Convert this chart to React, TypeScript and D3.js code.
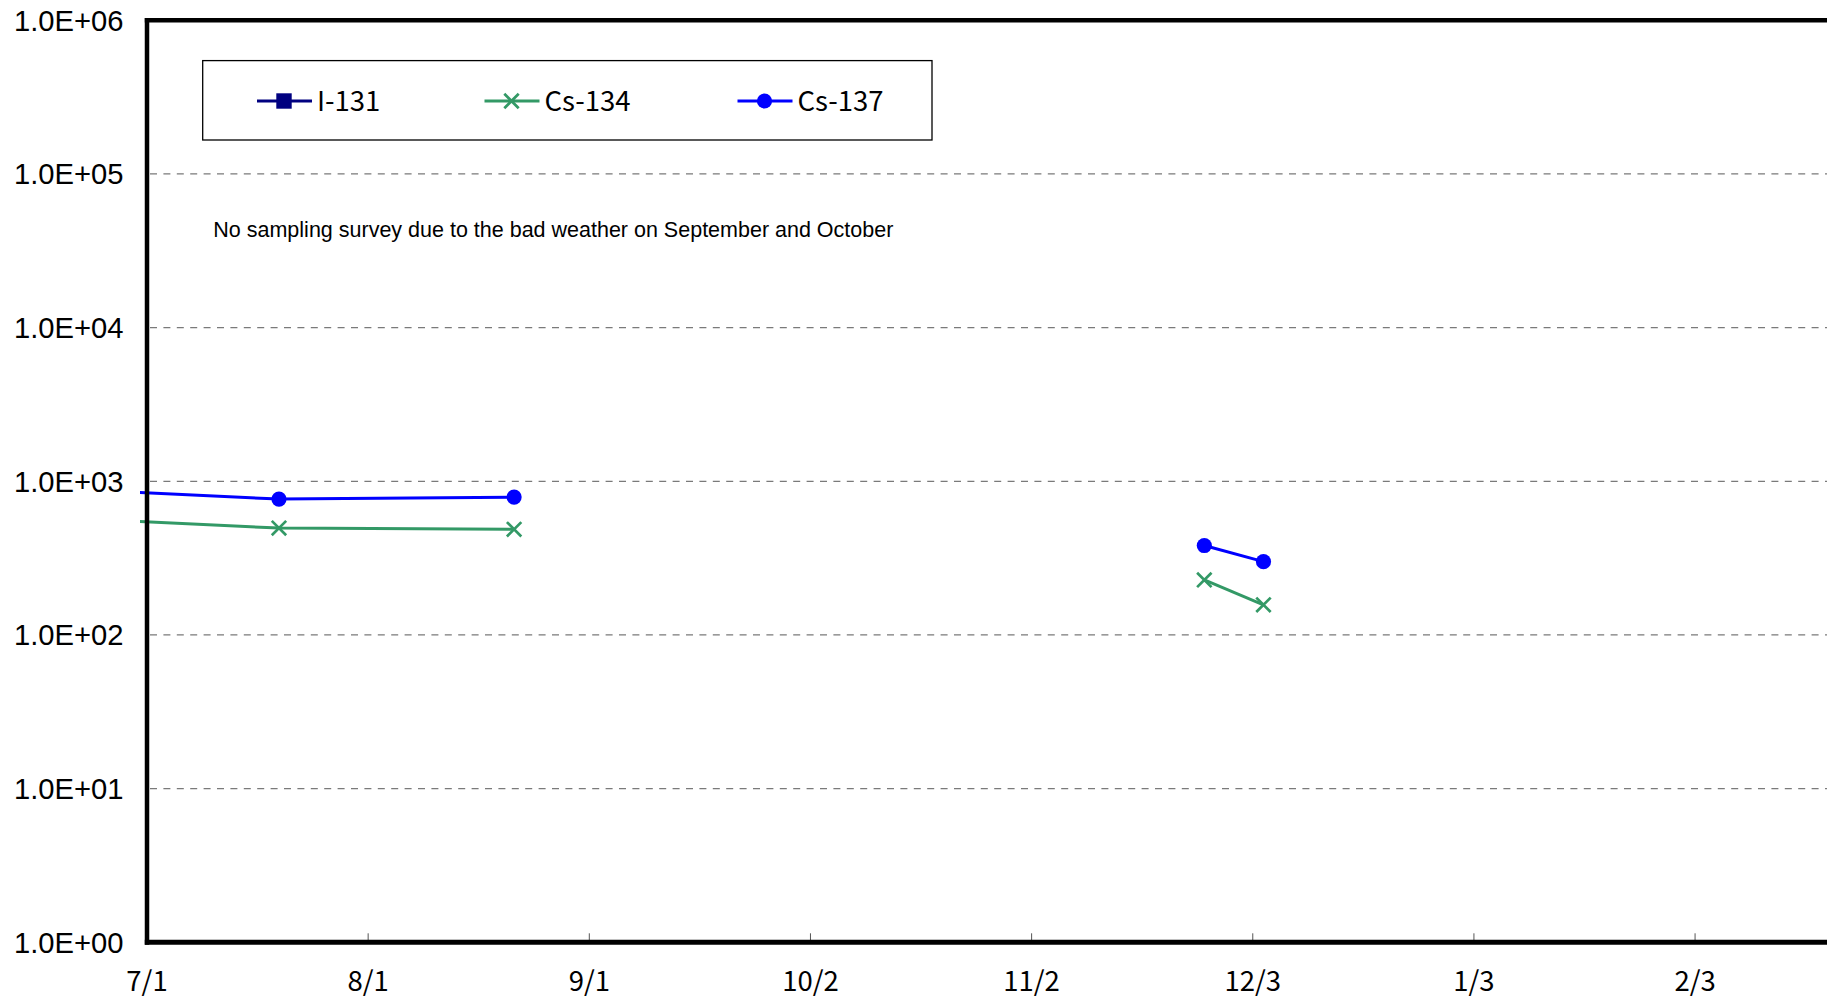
import React from "react";
import * as d3 from "d3";

// ---- data ----
const tickLabels = ["7/1", "8/1", "9/1", "10/2", "11/2", "12/3", "1/3", "2/3"];
const tickDates = [
  "2011-07-01", "2011-08-01", "2011-09-01", "2011-10-02",
  "2011-11-02", "2011-12-03", "2012-01-03", "2012-02-03",
];
const yTicks = [1, 10, 100, 1000, 10000, 100000, 1000000];
const yTickLabels = ["1.0E+00", "1.0E+01", "1.0E+02", "1.0E+03", "1.0E+04", "1.0E+05", "1.0E+06"];

// segments (gap between Aug and Nov: no sampling)
const cs137Segments = [
  [
    { date: "2011-06-20", value: 890 },
    { date: "2011-07-19T12:00", value: 766 },
    { date: "2011-08-21T11:00", value: 789 },
  ],
  [
    { date: "2011-11-26T05:00", value: 382 },
    { date: "2011-12-04T12:00", value: 300 },
  ],
];
const cs134Segments = [
  [
    { date: "2011-06-20", value: 576 },
    { date: "2011-07-19T12:00", value: 496 },
    { date: "2011-08-21T11:00", value: 487 },
  ],
  [
    { date: "2011-11-26T05:00", value: 228 },
    { date: "2011-12-04T12:00", value: 157 },
  ],
];
const i131Segments: { date: string; value: number }[][] = [];

const annotation = "No sampling survey due to the bad weather on September and October";
const legendItems = [
  { name: "I-131", color: "#000080", marker: "square" },
  { name: "Cs-134", color: "#339966", marker: "cross" },
  { name: "Cs-137", color: "#0000FF", marker: "circle" },
];

// ---- layout ----
const W = 1827;
const H = 999;
const left = 147;
const top = 20.3;
const bottom = 942.3;
const pxPerDay = 7.134;
const axisDays = 248;

const parse = (s: string) => new Date(s);

export default function App() {
  const x0 = parse(tickDates[0]);
  const x1 = d3.timeDay.offset(x0, axisDays);
  const x = d3.scaleTime().domain([x0, x1]).range([left, left + axisDays * pxPerDay]);
  const y = d3.scaleLog().domain([1, 1e6]).range([bottom, top]);
  const right = left + axisDays * pxPerDay;

  const line = d3
    .line<{ date: string; value: number }>()
    .x((d) => x(parse(d.date)))
    .y((d) => y(d.value));

  const series = [
    { segs: i131Segments, ...legendItems[0] },
    { segs: cs134Segments, ...legendItems[1] },
    { segs: cs137Segments, ...legendItems[2] },
  ];

  const marker = (kind: string, cx: number, cy: number, color: string, key: string) => {
    if (kind === "circle")
      return <circle key={key} cx={cx} cy={cy} r={7.6} fill={color} />;
    if (kind === "square")
      return <rect key={key} x={cx - 7.7} y={cy - 7.7} width={15.4} height={15.4} fill={color} />;
    const s = 7.2;
    return (
      <path
        key={key}
        d={`M${cx - s},${cy - s}L${cx + s},${cy + s}M${cx - s},${cy + s}L${cx + s},${cy - s}`}
        stroke={color}
        strokeWidth={2.7}
        fill="none"
      />
    );
  };

  const legendX = [257, 484.5, 737.5];

  return (
    <svg
      width={W}
      height={H}
      style={{ position: "absolute", left: 0, top: 0, background: "#fff" }}
    >
      <defs>
        <clipPath id="plotclip">
          <rect x={140} y={top} width={right - 140} height={bottom - top} />
        </clipPath>
      </defs>
      <rect x={0} y={0} width={W} height={H} fill="#fff" />

      {/* gridlines */}
      {yTicks.slice(1, -1).map((t) => (
        <line
          key={t}
          x1={left + 3}
          x2={right}
          y1={y(t)}
          y2={y(t)}
          stroke="#7a7a7a"
          strokeWidth={1.3}
          strokeDasharray="7,6.4"
        />
      ))}

      {/* x tick marks */}
      {tickDates.slice(1).map((d) => (
        <line key={d} x1={x(parse(d))} x2={x(parse(d))} y1={bottom} y2={bottom - 9} stroke="#555" strokeWidth={1} />
      ))}

      {/* data lines */}
      <g clipPath="url(#plotclip)">
        {series.map((s) =>
          s.segs.map((seg, i) => (
            <path key={s.name + i} d={line(seg) || ""} fill="none" stroke={s.color} strokeWidth={3} />
          ))
        )}
      </g>

      {/* axes */}
      <line x1={left - 2.2} x2={W + 10} y1={top} y2={top} stroke="#000" strokeWidth={4.5} />
      <line x1={left} x2={left} y1={top - 2.2} y2={bottom + 2.5} stroke="#000" strokeWidth={4.5} />
      <line x1={left - 2.2} x2={W + 10} y1={bottom} y2={bottom} stroke="#000" strokeWidth={5} />

      {/* markers */}
      <g clipPath="url(#plotclip)">
        {series.map((s) =>
          s.segs.map((seg, i) =>
            seg
              .filter((d) => parse(d.date) >= x0)
              .map((d, j) => marker(s.marker, x(parse(d.date)), y(d.value), s.color, s.name + i + "-" + j))
          )
        )}
      </g>

      {/* y labels */}
      {yTicks.map((t, i) => (
        <text
          key={t}
          x={123.5}
          y={y(t)}
          dy="0.36em"
          textAnchor="end"
          fontFamily="'Liberation Sans', Arial, sans-serif"
          fontSize={29.2}
          fill="#000"
        >
          {yTickLabels[i]}
        </text>
      ))}

      {/* x labels */}
      {tickDates.map((d, i) => (
        <text
          key={d}
          x={x(parse(d))}
          y={990.5}
          textAnchor="middle"
          fontFamily="'Noto Sans CJK JP', sans-serif"
          fontSize={27.5}
          fill="#000"
        >
          {tickLabels[i]}
        </text>
      ))}

      {/* legend */}
      <rect x={202.7} y={60.6} width={729.3} height={79.4} fill="#fff" stroke="#000" strokeWidth={1.3} />
      {legendItems.map((it, i) => (
        <g key={it.name}>
          <line x1={legendX[i]} x2={legendX[i] + 55} y1={101} y2={101} stroke={it.color} strokeWidth={3} />
          {marker(it.marker, legendX[i] + 27, 101, it.color, "lg" + i)}
          <text
            x={legendX[i] + 60}
            y={101}
            dy="0.36em"
            fontFamily="'Noto Sans CJK JP', sans-serif"
            fontSize={27.5}
            fill="#000"
          >
            {it.name}
          </text>
        </g>
      ))}

      {/* annotation */}
      <text x={213.3} y={237.3} fontFamily="'Liberation Sans', Arial, sans-serif" fontSize={21.5} fill="#000">
        {annotation}
      </text>
    </svg>
  );
}
